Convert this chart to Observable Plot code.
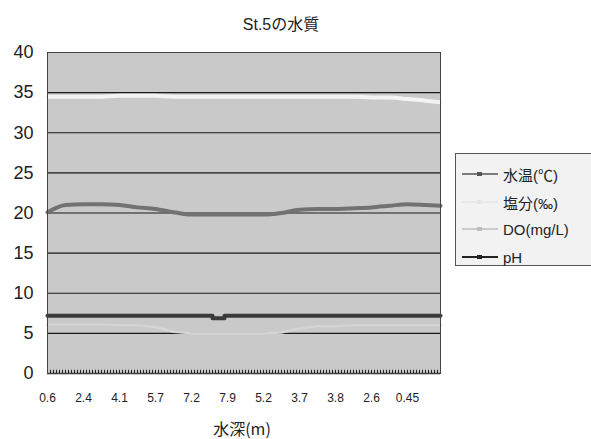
<!DOCTYPE html>
<html><head><meta charset="utf-8">
<script src="https://cdn.jsdelivr.net/npm/d3@7"></script>
<script src="https://cdn.jsdelivr.net/npm/@observablehq/plot@0.6"></script>
<style>
body{margin:0;background:#fff;}
#wrap{position:relative;width:591px;height:439px;overflow:hidden;font-family:"Liberation Sans","Noto Sans CJK JP",sans-serif;color:#222;}
#title{position:absolute;left:0;width:562px;top:11px;text-align:center;font-size:16px;font-family:"Liberation Sans","Noto Sans CJK JP",sans-serif;}
#xtitle{position:absolute;left:192px;width:100px;top:416px;text-align:center;font-size:16px;font-family:"Noto Sans CJK JP",sans-serif;}
#legend{position:absolute;left:455px;top:153px;width:140px;height:113px;border:1px solid #555;background:#f2f2f2;box-sizing:border-box;}
.lrow{position:absolute;left:6px;height:24px;display:flex;align-items:center;font-size:15px;font-family:"Liberation Sans","Noto Sans CJK JP",sans-serif;white-space:nowrap;}
.lrow svg{margin-right:5px;}
</style></head><body><div id="wrap"><div id="title">St.5の水質</div><div id="xtitle">水深(m)</div><div id="legend"></div></div>
<script>
// x axis: sample number along the cast, labelled every 12 samples with depth (m)
const depthLabels = ["0.6","2.4","4.1","5.7","7.2","7.9","5.2","3.7","3.8","2.6","0.45"];
const labelEvery = 12;
const nSamples = 132;
const yTicks = [0,5,10,15,20,25,30,35,40];

const sampleIdx = [0,6,12,18,24,30,36,42,48,54,60,66,72,78,84,90,96,102,108,114,120,126,131];
const temp      = [20.1,21.0,21.1,21.1,21.0,20.7,20.5,20.1,19.8,19.8,19.8,19.8,19.8,20.0,20.4,20.5,20.5,20.6,20.7,20.9,21.1,21.0,20.9];
const salinity  = [34.5,34.5,34.5,34.5,34.6,34.6,34.6,34.5,34.5,34.5,34.5,34.5,34.5,34.5,34.5,34.5,34.5,34.5,34.4,34.4,34.2,34.0,33.8];
const doVals    = [6.1,6.1,6.1,6.1,6.0,6.0,5.8,5.2,5.0,5.0,5.0,5.0,5.0,5.1,5.6,5.9,5.9,6.0,6.0,6.0,6.0,6.0,6.0];
const phIdx     = [0,54,55,58,59,131];
const phVals    = [7.2,7.2,6.9,6.9,7.2,7.2];

const seriesNames  = ["水温(℃)","塩分(‰)","DO(mg/L)","pH"];
const seriesColors = ["#727272","#f3f3f3","#d4d4d4","#3a3a3a"];
const legendColors = ["#555555","#e6e6e6","#bcbcbc","#222222"];

const mk = (idx, vals, s) => idx.map((i, k) => ({i, v: vals[k], s}));
const tempData = mk(sampleIdx, temp, seriesNames[0]);
const salData  = mk(sampleIdx, salinity, seriesNames[1]);
const doData   = mk(sampleIdx, doVals, seriesNames[2]);
const phData   = mk(phIdx, phVals, seriesNames[3]);

const labelTicks = depthLabels.map((d, k) => k * labelEvery);

const chart = Plot.plot({
  width: 591, height: 439,
  marginLeft: 47, marginRight: 151, marginTop: 52, marginBottom: 66,
  style: {background: "transparent", fontFamily: "Liberation Sans, sans-serif", color: "#222"},
  x: {type: "linear", domain: [0, nSamples - 1]},
  y: {domain: [0, 40]},
  marks: [
    Plot.frame({fill: "#c9c9c9", stroke: "none"}),
    Plot.gridY(yTicks.slice(1, -1), {stroke: "#1a1a1a", strokeOpacity: 1, strokeWidth: 1.2}),
    Plot.line(doData, {x: "i", y: "v", stroke: seriesColors[2], strokeWidth: 2.5}),
    Plot.line(salData, {x: "i", y: "v", stroke: seriesColors[1], strokeWidth: 4, curve: "monotone-x"}),
    Plot.line(tempData, {x: "i", y: "v", stroke: seriesColors[0], strokeWidth: 4, curve: "monotone-x"}),
    Plot.line(phData, {x: "i", y: "v", stroke: seriesColors[3], strokeWidth: 4, curve: "step-after"}),
    Plot.ruleX(d3.range(nSamples), {y1: 0, y2: 0.4, stroke: "#222", strokeWidth: 1}),
    Plot.ruleY([0], {stroke: "#222", strokeWidth: 1.5}),
    Plot.frame({stroke: "#444", strokeWidth: 1}),
    Plot.axisY(yTicks, {tickSize: 0, tickPadding: 14, fontSize: 18, label: null}),
    Plot.axisX(labelTicks, {tickSize: 0, tickPadding: 20, fontSize: 12, tickFormat: i => depthLabels[i / labelEvery], label: null})
  ]
});
document.getElementById("wrap").prepend(chart);

const legend = document.getElementById("legend");
const rowTops = [8, 36, 63, 91];
seriesNames.forEach((name, k) => {
  const row = document.createElement("div");
  row.className = "lrow";
  row.style.top = rowTops[k] + "px";
  row.innerHTML = `<svg width="36" height="10"><line x1="0" x2="36" y1="5" y2="5" stroke="${legendColors[k]}" stroke-width="${k===3?2:1.5}"/><rect x="15" y="3" width="5" height="4" fill="${legendColors[k]}"/></svg><span>${name}</span>`;
  legend.appendChild(row);
});
</script>
</body></html>
